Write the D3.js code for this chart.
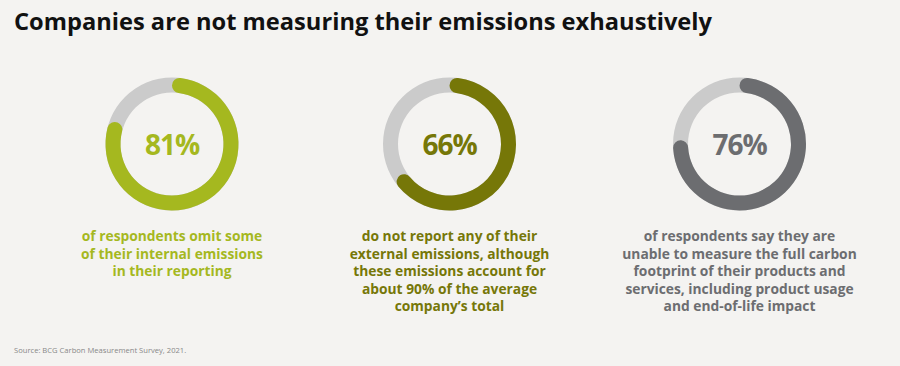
<!DOCTYPE html>
<html><head><meta charset="utf-8">
<script src="https://cdn.jsdelivr.net/npm/d3@7"></script>
<style>
html,body{margin:0;padding:0;background:#f4f3f1;}
svg{display:block;font-family:"Open Sans","Noto Sans",sans-serif;}
</style></head>
<body>
<svg id="chart" width="900" height="366"></svg>
<script>
const title = "Companies are not measuring their emissions exhaustively";
const source = "Source: BCG Carbon Measurement Survey, 2021.";
const values = [81, 66, 76];
const valueLabels = ["81%", "66%", "76%"];
const colors = ["#a5b81f", "#767708", "#6c6d70"];
const captions = [
  ["of respondents omit some", "of their internal emissions", "in their reporting"],
  ["do not report any of their", "external emissions, although", "these emissions account for", "about 90% of the average", "company\u2019s total"],
  ["of respondents say they are", "unable to measure the full carbon", "footprint of their products and", "services, including product usage", "and end-of-life impact"]
];

const svg = d3.select("#chart");
svg.append("rect").attr("width", 900).attr("height", 366).attr("fill", "#f4f3f1");

svg.append("text").attr("x", 14).attr("y", 30)
  .attr("font-size", 24).attr("font-weight", 700).attr("fill", "#111")
  .attr("textLength", 698).attr("lengthAdjust", "spacingAndGlyphs")
  .text(title);

svg.append("text").attr("x", 14).attr("y", 353)
  .attr("font-size", 7.6).attr("fill", "#888").text(source);

const centers = [172, 449.5, 739.5];
const angle = d3.scaleLinear().domain([0, 100]).range([0, 2 * Math.PI]);
const outerR = 66.5, innerR = 51.5;
const track = d3.arc().innerRadius(innerR).outerRadius(outerR);
const bar = d3.arc().innerRadius(innerR).outerRadius(outerR).cornerRadius(7.5);

values.forEach((v, i) => {
  const g = svg.append("g").attr("transform", `translate(${centers[i]},144)`);
  g.append("path").attr("d", track({startAngle: 0, endAngle: 2 * Math.PI})).attr("fill", "#cbcbcb");
  g.append("path").attr("d", bar({startAngle: angle(0), endAngle: angle(v)}))
    .attr("fill", colors[i]);
  g.append("text").attr("text-anchor", "middle").attr("y", 10.5)
    .attr("font-size", 28).attr("font-weight", 700).attr("fill", colors[i])
    .attr("letter-spacing", -1)
    .text(valueLabels[i]);
  const cap = svg.append("text").attr("text-anchor", "middle")
    .attr("font-size", 13.8).attr("font-weight", 700).attr("fill", colors[i]);
  captions[i].forEach((line, j) => {
    cap.append("tspan").attr("x", centers[i]).attr("y", 241 + j * 17.6).text(line);
  });
});
</script>
</body></html>
